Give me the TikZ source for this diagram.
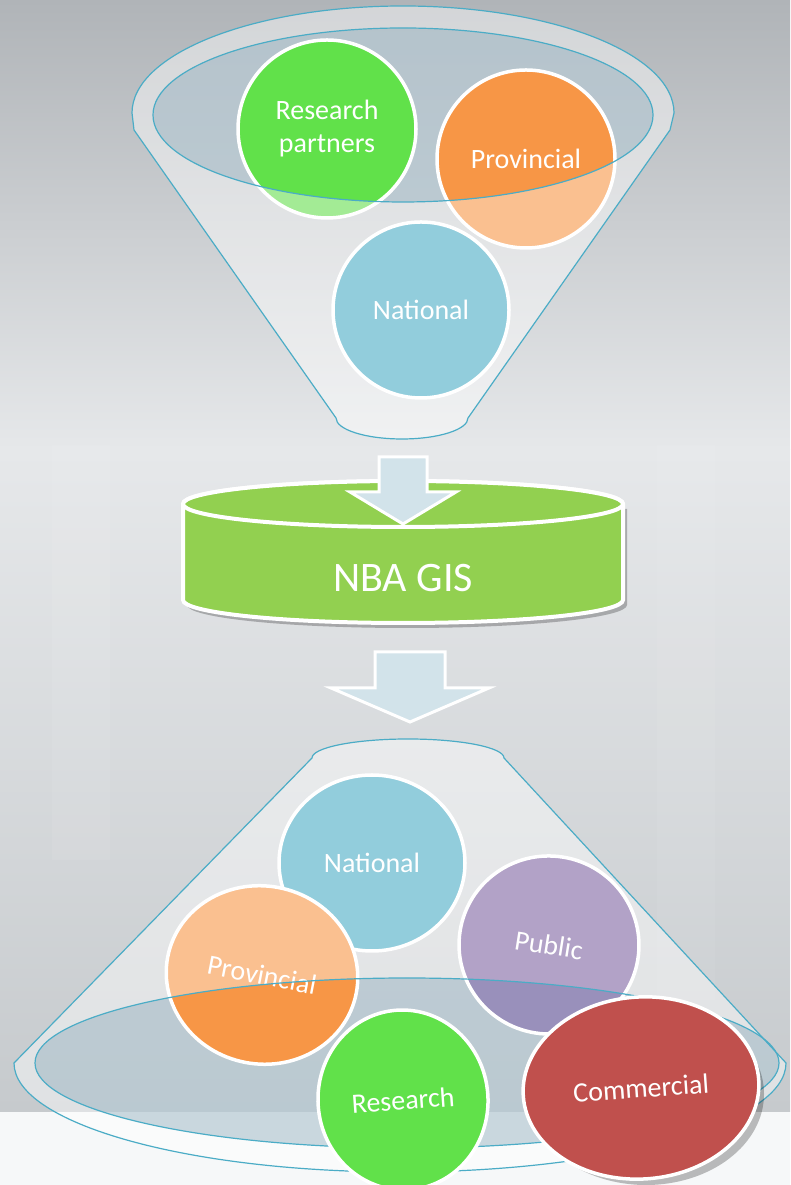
\documentclass[tikz,border=0pt]{standalone}
\usepackage{fontspec}
\setmainfont{Carlito}
\usetikzlibrary{shapes.geometric}

\definecolor{rimline}{RGB}{75,172,198}
\definecolor{bgtop}{RGB}{176,180,184}
\definecolor{bglight}{RGB}{230,232,234}
\definecolor{bgbot}{RGB}{198,202,205}
\definecolor{bandwhite}{RGB}{246,248,249}
\definecolor{mouthfill}{RGB}{143,172,188}
\definecolor{grn}{RGB}{97,225,74}
\definecolor{grnlight}{RGB}{163,235,149}
\definecolor{org}{RGB}{247,150,70}
\definecolor{orglight}{RGB}{250,192,144}
\definecolor{aqua}{RGB}{146,205,220}
\definecolor{lilac}{RGB}{178,162,199}
\definecolor{lilacdark}{RGB}{153,144,187}
\definecolor{brick}{RGB}{192,80,77}
\definecolor{gisgreen}{RGB}{146,208,80}
\definecolor{arrowfill}{RGB}{210,227,234}

% funnel outlines, reused for fill and rim
\newcommand{\topcup}{(132,1072) arc[start angle=180, end angle=0, x radius=271, y radius=107] -- (670,1055) -- (468,767) arc[start angle=0, end angle=-180, x radius=66, y radius=21] -- (134,1055) -- cycle}
\newcommand{\topmouth}{(403,1070) ellipse[x radius=250, y radius=87]}
\newcommand{\lowcup}{(312,427) arc[start angle=180, end angle=0, x radius=96, y radius=19] -- (786,122) arc[start angle=0, end angle=-180, x radius=386, y radius=109] -- cycle}
\newcommand{\lowmouth}{(407,122) ellipse[x radius=372, y radius=85]}

\begin{document}
\begin{tikzpicture}[x=1pt,y=1pt,
    bub/.style={ellipse, draw=white, line width=3.5pt, text=white, inner sep=0pt,
      align=center, font=\fontsize{28}{33}\selectfont},
    rim/.style={draw=rimline, line width=1.2pt},
    body/.style={fill=white, fill opacity=0.45},
    mouth/.style={fill=mouthfill, fill opacity=0.45},
    blockarrow/.style={fill=arrowfill, draw=white, line width=3pt, line join=miter}]

    % background
    \useasboundingbox (0,0) rectangle (790,1185);
    \shade[top color=bgtop, bottom color=bglight] (0,735) rectangle (790,1185);
    \shade[top color=bglight, bottom color=bgbot] (0,73) rectangle (790,735);
    \fill[white, opacity=0.07] (52,325) rectangle (110,740);
    \fill[white, opacity=0.06] (657,185) rectangle (715,740);
    \fill[bandwhite] (0,0) rectangle (790,73);

    % top funnel
    \path[body] \topcup;
    \path[mouth] \topmouth;
    \fill[grnlight] (327,1056) circle[radius=89];
    \begin{scope}
        \clip \topmouth;
        \fill[grn] (327,1056) circle[radius=89];
    \end{scope}
    \node[bub, minimum size=178pt] (rpart) at (327,1056) {Research\\partners};
    \fill[orglight] (526,1025) circle[radius=89];
    \begin{scope}
        \clip \topmouth;
        \fill[org] (526,1025) circle[radius=89];
    \end{scope}
    \node[bub, minimum size=178pt] (tprov) at (526,1026) {Provincial};
    \draw[rim] \topcup;
    \draw[rim] \topmouth;
    \node[bub, fill=aqua, minimum size=176pt] (tnat) at (421,875) {National};

    % store
    \fill[black, opacity=0.25] (187,676) -- (187,580) arc[start angle=180, end angle=360, x radius=220, y radius=23] -- (627,676) -- cycle;
    \filldraw[fill=gisgreen, draw=white, line width=4pt] (183,681) -- (183,585)
        arc[start angle=180, end angle=360, x radius=220, y radius=23] -- (623,681)
        arc[start angle=0, end angle=180, x radius=220, y radius=23] -- cycle;
    \filldraw[fill=gisgreen, draw=white, line width=4pt] (403,681) ellipse[x radius=220, y radius=23];
    \node[text=white, font=\fontsize{42}{50}\selectfont] (gis) at (403,607) {NBA GIS};

    % arrows
    \draw[blockarrow] (379,728) -- (427,728) -- (427,693) -- (456,693) -- (403,661) -- (350,693) -- (379,693) -- cycle;
    \draw[blockarrow] (375,533) -- (445,533) -- (445,497) -- (489,497) -- (410,463) -- (331,497) -- (375,497) -- cycle;

    % bottom funnel
    \path[body] \lowcup;
    \path[mouth] \lowmouth;
    \node[bub, fill=aqua, minimum width=186pt, minimum height=176pt] (bnat) at (372,322) {National};
    \fill[orglight] (262,210) ellipse[x radius=96, y radius=89];
    \begin{scope}
        \clip \lowmouth;
        \fill[org] (262,210) ellipse[x radius=96, y radius=89];
    \end{scope}
    \node[bub, rotate=-11, minimum width=192pt, minimum height=178pt] (bprov) at (262,210) {Provincial};
    \fill[lilac] (549,240) ellipse[x radius=90, y radius=89];
    \begin{scope}
        \clip \lowmouth;
        \fill[lilacdark] (549,240) ellipse[x radius=90, y radius=89];
    \end{scope}
    \node[bub, rotate=-9, minimum width=180pt, minimum height=178pt] (bpub) at (549,240) {Public};
    \draw[rim] \lowcup;
    \draw[rim] \lowmouth;
    \node[bub, fill=grn, rotate=4, minimum width=170pt, minimum height=180pt] (bres) at (403,85) {Research};
    \fill[black, opacity=0.25] (646,91) ellipse[x radius=118, y radius=91];
    \node[bub, fill=brick, rotate=4, minimum width=236pt, minimum height=182pt] (bcom) at (641,97) {Commercial};
\end{tikzpicture}
\end{document}
